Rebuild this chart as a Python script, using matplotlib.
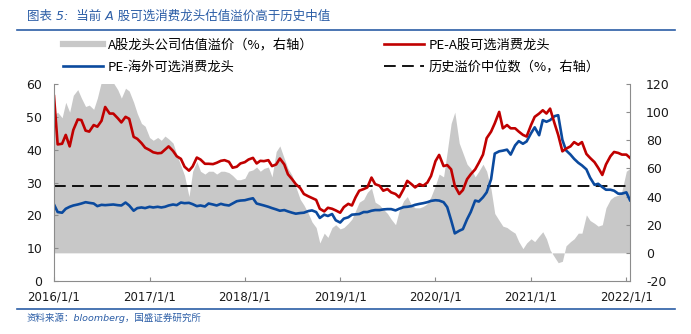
import matplotlib
matplotlib.use('Agg')
import matplotlib.pyplot as plt
import pandas as pd
from matplotlib.lines import Line2D

plt.rcParams['font.family'] = ['Noto Sans CJK SC', 'DejaVu Sans']
plt.rcParams['axes.unicode_minus'] = False

# Semi-monthly observations, 2016-01 .. 2022-01
pe_a = [
    56.3, 41.6, 41.8, 44.5, 41.0, 46.0, 49.2, 49.0, 45.8, 45.5,
    47.5, 47.0, 48.8, 53.0, 51.0, 51.0, 49.6, 48.3, 50.0, 49.4,
    43.9, 43.3, 42.0, 40.6, 39.9, 39.2, 38.9, 39.0, 40.0, 41.0,
    39.6, 38.0, 37.2, 34.8, 33.6, 34.9, 37.6, 37.0, 35.7, 35.7,
    35.6, 36.0, 36.6, 36.8, 36.3, 34.5, 34.8, 35.8, 36.2, 37.0,
    37.5, 35.8, 36.6, 36.5, 36.8, 35.0, 35.5, 37.3, 35.5, 32.5,
    31.0, 29.5, 28.3, 26.5, 25.8, 25.3, 24.7, 22.0, 21.2, 22.3,
    22.0, 21.5, 20.8, 22.5, 23.5, 23.0, 25.5, 27.5, 28.0, 28.5,
    31.5, 29.5, 29.0, 27.5, 28.0, 27.0, 26.5, 25.5, 28.0, 30.5,
    29.5, 28.5, 29.5, 29.0, 30.0, 32.0, 36.5, 38.4, 35.0, 35.3,
    34.0, 29.0, 26.5, 27.7, 31.0, 32.5, 34.0, 36.0, 38.5, 43.5,
    45.5, 48.0, 51.5, 46.5, 47.5, 46.5, 46.5, 45.5, 44.5, 44.0,
    47.5, 50.0, 51.0, 52.0, 51.0, 52.5, 48.0, 44.5, 39.5, 40.3,
    41.0, 42.3, 41.5, 42.3, 38.7, 37.5, 36.2, 34.5, 32.3, 35.5,
    38.0, 39.3, 39.0, 38.5, 38.5, 37.5,
]
pe_overseas = [
    23.3, 21.0, 20.8, 22.0, 22.6, 23.0, 23.3, 23.6, 24.0, 23.8,
    23.6, 22.8, 23.2, 23.1, 23.2, 23.3, 23.1, 23.0, 23.9, 23.0,
    21.4, 22.2, 22.4, 22.2, 22.6, 22.4, 22.6, 22.4, 22.6, 23.0,
    23.3, 23.1, 23.9, 23.7, 23.8, 23.4, 22.8, 23.0, 22.7, 23.6,
    23.3, 23.0, 23.5, 23.2, 23.0, 23.6, 24.3, 24.5, 24.6, 24.9,
    25.2, 23.6, 23.3, 23.0, 22.6, 22.2, 21.8, 21.4, 21.6, 21.2,
    20.8, 20.5, 20.7, 20.8, 21.3, 21.5, 21.0, 19.2, 20.2, 19.8,
    20.4, 18.5, 17.8, 19.0, 19.4, 20.2, 20.3, 20.4, 21.0, 21.0,
    21.4, 21.6, 21.6, 21.8, 21.9, 21.9, 21.5, 22.0, 22.5, 22.6,
    22.8, 23.2, 23.5, 23.7, 24.0, 24.4, 24.6, 24.5, 24.0, 22.5,
    18.5, 14.5, 15.3, 15.8, 18.8, 21.0, 24.5, 24.2, 25.5, 27.0,
    31.0, 38.8, 39.5, 39.7, 40.0, 38.5, 41.3, 42.6, 41.8, 42.5,
    45.0, 46.8, 44.4, 49.0, 48.5, 49.0, 50.2, 50.5, 43.0, 39.8,
    38.5, 37.2, 36.0, 35.2, 34.0, 31.5, 29.3, 29.6, 28.6, 27.8,
    27.8, 27.5, 26.6, 26.6, 27.0, 24.6,
]
premium = [
    98, 100, 96, 107, 100, 112, 116, 110, 104, 105,
    102, 110, 122, 123, 122, 121, 116, 110, 117, 115,
    107, 99, 92, 90, 82, 80, 82, 80, 83, 81,
    78, 70, 62, 55, 40, 58, 65, 58, 56, 58,
    58, 56, 58, 58, 57, 55, 52, 52, 53, 58,
    59, 61, 58, 60, 61, 54, 72, 76, 67, 60,
    55, 47, 38, 34, 28, 22, 18, 7, 14, 11,
    18, 20, 17, 18, 21, 24, 30, 36, 38, 43,
    46, 36, 34, 31, 28, 24, 20, 30, 37, 40,
    34, 32, 32, 33, 35, 40, 48, 56, 54, 72,
    92, 100, 78, 71, 63, 60, 54, 58, 63, 58,
    45, 28, 23, 19, 18, 16, 14, 8, 3, 7,
    10, 8, 12, 15, 10, 2, -3, -7, -6, 5,
    8, 10, 14, 14, 27, 23, 21, 19, 20, 32,
    38, 40, 41, 44, 58, 60,
]
median_premium = 47.4

dates = pd.date_range('2016-01-01', periods=len(pe_a), freq='SMS')
year_labels = ['2016/1/1', '2017/1/1', '2018/1/1', '2019/1/1',
               '2020/1/1', '2021/1/1', '2022/1/1']

labels = ['A股龙头公司估值溢价（%，右轴）', 'PE-海外可选消费龙头',
          'PE-A股可选消费龙头', '历史溢价中位数（%，右轴）']

RED = '#C00000'
BLUE = '#0B4A9E'
GREY = '#C8C8C8'
NAVY = '#2B5DA6'
AXIS = '#8C8C8C'
latin_cjk = ['DejaVu Sans', 'Noto Sans CJK SC']

W, H = 691, 334
fig = plt.figure(figsize=(W / 100, H / 100), dpi=100)
ax = fig.add_axes([54 / W, 1 - 281 / H, 576 / W, 197 / H])
ax2 = ax.twinx()

# premium area and its historical median on the right axis
ax2.fill_between(dates, 0, premium, color=GREY, lw=0)
ax2.axhline(median_premium, color='black', lw=1.3, dashes=(6.5, 3.5))
ax2.set_ylim(-20, 120)
ax2.set_yticks(range(-20, 121, 20))

# PE lines on the left axis, kept above the area
ax.plot(dates, pe_overseas, color=BLUE, lw=1.9)
ax.plot(dates, pe_a, color=RED, lw=1.9)
ax.set_zorder(ax2.get_zorder() + 1)
ax.patch.set_visible(False)
ax.set_ylim(0, 60)
ax.set_yticks(range(0, 61, 10))
ax.set_xlim(dates[0], dates[-1])
ax.set_xticks(pd.to_datetime(year_labels))
ax.set_xticklabels(year_labels)

for a in (ax, ax2):
    a.spines['top'].set_visible(False)
    for s in a.spines.values():
        s.set_color(AXIS)
        s.set_linewidth(0.8)
ax.spines['right'].set_visible(False)
ax2.spines['left'].set_visible(False)
ax2.spines['bottom'].set_visible(False)

ax.tick_params(axis='y', direction='in', length=3, pad=8.5, color=AXIS,
               labelcolor='#1a1a1a', labelsize=9, labelfontfamily='DejaVu Sans')
ax.tick_params(axis='x', direction='in', length=3, pad=7, color=AXIS,
               labelcolor='#1a1a1a', labelsize=8.5, labelfontfamily='DejaVu Sans')
ax2.tick_params(axis='y', direction='in', length=3, pad=11.5, color=AXIS,
                labelcolor='#1a1a1a', labelsize=9, labelfontfamily='DejaVu Sans')

handles = [
    Line2D([], [], color=GREY, lw=4.5),
    Line2D([], [], color=BLUE, lw=1.9),
    Line2D([], [], color=RED, lw=1.9),
    Line2D([], [], color='black', lw=1.3, dashes=(6.5, 3.5)),
]
fig.legend(handles, labels, ncol=2, loc='upper left',
           bbox_to_anchor=(63 / W, 1 - 38.5 / H), bbox_transform=fig.transFigure,
           frameon=False, fontsize=9.5, borderpad=0, borderaxespad=0,
           handlelength=3.03, handletextpad=0.38, columnspacing=5.3,
           labelspacing=0.68)

# header and footer
fig.text(27 / W, 1 - 16 / H, '图表 5:  当前 A 股可选消费龙头估值溢价高于历史中值',
         color=NAVY, fontsize=9, style='italic', family=latin_cjk, va='center')
fig.add_artist(Line2D([17 / W, 675 / W], [1 - 30 / H] * 2, color=NAVY, lw=1.2,
                      transform=fig.transFigure))
fig.add_artist(Line2D([17 / W, 675 / W], [1 - 309 / H] * 2, color=NAVY, lw=1.2,
                      transform=fig.transFigure))
fig.text(27 / W, 1 - 318 / H, '资料来源：bloomberg，国盛证券研究所',
         color=NAVY, fontsize=6.8, style='italic', family=latin_cjk, va='center')

fig.savefig('out.png', dpi=100)
